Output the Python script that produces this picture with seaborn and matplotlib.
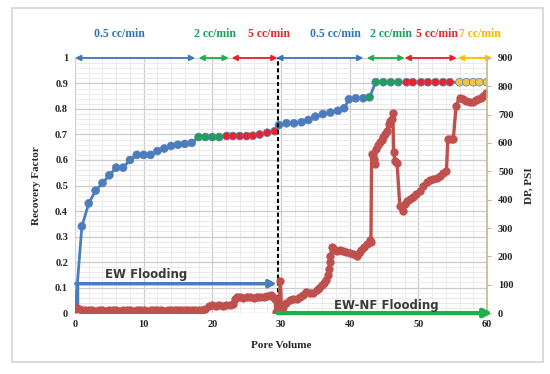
import matplotlib
matplotlib.use("Agg")
import matplotlib.pyplot as plt
from matplotlib.patches import Rectangle
from matplotlib.ticker import MultipleLocator
import seaborn as sns
import pandas as pd

# recovery factor (left axis)
rf_pv = [0, 1, 2, 3, 4, 5, 6, 7, 8, 9, 10, 11, 12, 13, 14, 15, 16, 17,
         18, 19, 20, 21,
         22.1, 23, 24, 25, 25.9, 26.9, 28, 29.1,
         29.7, 30.8, 31.9, 33, 34, 35, 36.1, 37.2, 38.3, 39.2, 39.9, 40.9, 42,
         42.9, 43.8, 44.9, 46, 47.1,
         48.3, 49.2, 50.4, 51.4, 52.5, 53.6, 54.6,
         56, 57, 58, 58.9, 60]
rf_values = [0, 0.34, 0.43, 0.48, 0.51, 0.54, 0.57, 0.57, 0.60, 0.62, 0.62, 0.62, 0.635, 0.645, 0.655, 0.66, 0.663, 0.667,
             0.69, 0.69, 0.69, 0.69,
             0.694, 0.694, 0.694, 0.694, 0.695, 0.70, 0.707, 0.713,
             0.737, 0.744, 0.744, 0.748, 0.757, 0.77, 0.78, 0.786, 0.793, 0.803, 0.838, 0.842, 0.842,
             0.846, 0.905, 0.905, 0.905, 0.905,
             0.905, 0.905, 0.905, 0.905, 0.905, 0.905, 0.905,
             0.905, 0.905, 0.905, 0.905, 0.905]
rf_rate = (["0.5"] * 18 + ["2"] * 4 + ["5"] * 8 + ["0.5"] * 13 +
           ["2"] * 5 + ["5"] * 7 + ["7"] * 5)

# differential pressure (right axis)
dp_pv = [0.0, 0.3, 0.6, 1.0, 1.5, 2.0, 2.5, 3.0, 3.5, 4.0, 4.5, 5.0, 5.5, 6.0, 6.5, 7.0, 7.5, 8.0, 8.5, 9.0,
         9.5, 10.0, 10.5, 11.0, 11.5, 12.0, 12.5, 13.0, 13.5, 14.0, 14.5, 15.0, 15.5, 16.0, 16.5, 17.0, 17.5,
         18.0, 18.5, 19.0, 19.5, 20.0, 20.5, 21.0, 21.5, 22.0, 22.5, 23.0, 23.3, 23.6, 24.0, 24.5, 25.0, 25.5,
         26.0, 26.5, 27.0, 27.5, 28.0, 28.5, 28.8, 29.1, 29.3, 29.6, 29.9, 30.1,
         30.3, 30.8, 31.3, 31.8, 32.3, 32.8, 33.2, 33.7, 34.2, 34.7, 35.2, 35.6, 35.9, 36.3, 36.6, 36.9, 37.0,
         37.1, 37.2, 37.4, 37.6, 37.8, 38.2, 38.6, 39.0, 39.5, 40.0, 40.5, 41.0, 41.4, 41.7, 42.1, 42.5, 42.9,
         43.1, 43.2, 43.5, 43.7, 43.9, 44.2, 44.4, 44.7, 44.9, 45.2, 45.4, 45.7, 45.9, 46.1, 46.3, 46.4, 46.6,
         46.9, 47.3, 47.7, 48.0, 48.3, 48.8, 49.2, 49.7, 50.2, 50.7, 51.2, 51.7, 52.2, 52.7, 53.1, 53.6, 54.1,
         54.3, 54.7, 55.1, 55.5, 56.0, 56.5, 57.0, 57.5, 58.0, 58.4, 58.7, 59.1, 59.4, 59.9]
dp_values = [14, 18, 16, 12, 10, 9, 10, 8, 9, 10, 8, 9, 10, 9, 8, 9, 10, 9, 8, 9,
             10, 9, 8, 9, 10, 10, 9, 8, 9, 10, 9, 10, 11, 10, 9, 10, 9,
             10, 11, 14, 24, 28, 26, 27, 26, 28, 30, 32, 48, 56, 55, 54, 56, 55,
             54, 55, 56, 58, 60, 62, 58, 50, 3, 0, 112, 12,
             21, 35, 45, 48, 51, 55, 62, 75, 69, 72, 80, 90, 98, 105, 115, 133, 155,
             180, 200, 232, 228, 221, 218, 221, 218, 215, 212, 209, 203, 212, 221, 232, 244, 256,
             250, 561, 545, 526, 579, 592, 602, 612, 620, 632, 643, 667, 676, 684, 707, 567, 537,
             531, 379, 361, 385, 397, 402, 408, 420, 432, 448, 461, 468, 473, 478, 485, 494, 502,
             614, 614, 614, 731, 760, 755, 749, 746, 743, 750, 755, 760, 766, 778]

# injection-rate bands along the top (start, end, label)
band_start = [0, 18, 22.8, 29.3, 42.5, 48, 55.8]
band_end = [17.5, 22.4, 29.5, 42, 48, 55.6, 60.8]
band_label = ["0.5 cc/min", "2 cc/min", "5 cc/min", "0.5 cc/min", "2 cc/min", "5 cc/min", "7 cc/min"]
band_text_x = [6.5, 20.4, 28.3, 38, 46, 52.7, 59]

BLUE = "#4a7dbf"
rate_colors = {"0.5": "#4a7dbf", "2": "#1fa05a", "5": "#e3262e", "7": "#f2c446"}
arrow_colors = {"0.5": "#3c78c0", "2": "#1fb04a", "5": "#e8212b", "7": "#ffc000"}
text_colors = {"0.5": "#2e75b6", "2": "#1e9e56", "5": "#e0262a", "7": "#f5b800"}
band_rate = ["0.5", "2", "5", "0.5", "2", "5", "7"]

serif = "Liberation Serif"

rf_df = pd.DataFrame({"pv": rf_pv, "rf": rf_values, "rate": rf_rate})
dp_df = pd.DataFrame({"pv": dp_pv, "dp": dp_values})

fig = plt.figure(figsize=(5.5, 3.74), dpi=100)
fig.patches.append(Rectangle((0.022, 0.032), 0.9655, 0.9465, transform=fig.transFigure,
                             fill=False, edgecolor="#d6d6d6", lw=1.2))
ax = fig.add_axes([0.1364, 0.163, 0.749, 0.682])
ax2 = ax.twinx()

# grid
ax.set_xlim(0, 60)
ax.set_ylim(0, 1)
ax.xaxis.set_major_locator(MultipleLocator(10))
ax.xaxis.set_minor_locator(MultipleLocator(2))
ax.yaxis.set_major_locator(MultipleLocator(0.1))
ax.yaxis.set_minor_locator(MultipleLocator(0.02))
ax.grid(which="major", color="#cccccc", lw=0.9)
ax.grid(which="minor", color="#e8e8e8", lw=0.6)
ax.set_axisbelow(True)

sns.lineplot(data=rf_df, x="pv", y="rf", color=BLUE, lw=2, estimator=None, sort=False, ax=ax, zorder=2)
sns.scatterplot(data=rf_df, x="pv", y="rf", hue="rate", palette=rate_colors, legend=False,
                s=32, edgecolor="#5b7fb5", linewidth=0.5, ax=ax, zorder=3)

sns.lineplot(data=dp_df, x="pv", y="dp", color="#c0504d", lw=2.4, marker="o", markersize=6,
             markeredgewidth=0, estimator=None, sort=False, ax=ax2, zorder=2)
ax2.set_ylim(0, 900)
ax2.yaxis.set_major_locator(MultipleLocator(100))

# rate bands
for s, e, lab, r, tx in zip(band_start, band_end, band_label, band_rate, band_text_x):
    ax.annotate("", xy=(e, 1.0), xytext=(s, 1.0), xycoords="data", annotation_clip=False,
                arrowprops=dict(arrowstyle="<|-|>", color=arrow_colors[r], lw=1.3, mutation_scale=8,
                                shrinkA=0, shrinkB=0))
    ax.text(tx, 1.095, lab, color=text_colors[r], fontsize=8.5, fontweight="bold", family=serif,
            ha="center", va="center", clip_on=False)

# flooding stages
ax.axvline(29.5, ymin=0, ymax=1, color="black", ls=(0, (2, 1.3)), lw=1.5, zorder=4)
ax.plot([0.25, 0.25], [0, 0.115], color=BLUE, lw=2.5, solid_capstyle="butt", zorder=4)
ax.annotate("", xy=(29.4, 0.115), xytext=(0.1, 0.115), annotation_clip=False,
            arrowprops=dict(arrowstyle="-|>", color=BLUE, lw=2.5, mutation_scale=11, shrinkA=0, shrinkB=0))
ax.text(10.4, 0.152, "EW Flooding", fontsize=8.5, fontweight="bold", color="#3a3a3a",
        ha="center", va="center")
ax2.annotate("", xy=(60.8, 0), xytext=(29.5, 0), annotation_clip=False,
             arrowprops=dict(arrowstyle="-|>", color="#1fb04a", lw=3, mutation_scale=12, shrinkA=0, shrinkB=0))
ax2.text(45.3, 27, "EW-NF Flooding", fontsize=8.5, fontweight="bold", color="#3a3a3a",
         ha="center", va="center")

# axes styling
ax.set_xticks([0, 10, 20, 30, 40, 50, 60])
ax.set_xticklabels(["0", "10", "20", "30", "40", "50", "60"])
ax.set_yticks([i / 10 for i in range(11)])
ax.set_yticklabels(["0", "0.1", "0.2", "0.3", "0.4", "0.5", "0.6", "0.7", "0.8", "0.9", "1"])
for lab in ax.get_xticklabels() + ax.get_yticklabels() + ax2.get_yticklabels():
    lab.set_family(serif)
    lab.set_fontweight("bold")
    lab.set_fontsize(7.5)
    lab.set_color("#262626")
ax.tick_params(axis="both", which="both", length=0, pad=5)
ax2.tick_params(axis="y", which="major", length=3, color="#c8b98a", pad=5)
ax.set_xlabel("Pore Volume", family=serif, fontweight="bold", fontsize=8, color="#262626", labelpad=9)
ax.set_ylabel("Recovery Factor", family=serif, fontweight="bold", fontsize=8, color="#262626", labelpad=10)
ax2.set_ylabel("DP, PSI", family=serif, fontweight="bold", fontsize=8, color="#262626", labelpad=8)

for sp in ["top", "left", "bottom"]:
    ax.spines[sp].set_visible(False)
    ax2.spines[sp].set_visible(False)
ax.spines["right"].set_visible(False)
ax2.spines["right"].set_color("#c8b98a")
ax2.spines["right"].set_linewidth(1.2)

fig.savefig("out.png", dpi=100)
